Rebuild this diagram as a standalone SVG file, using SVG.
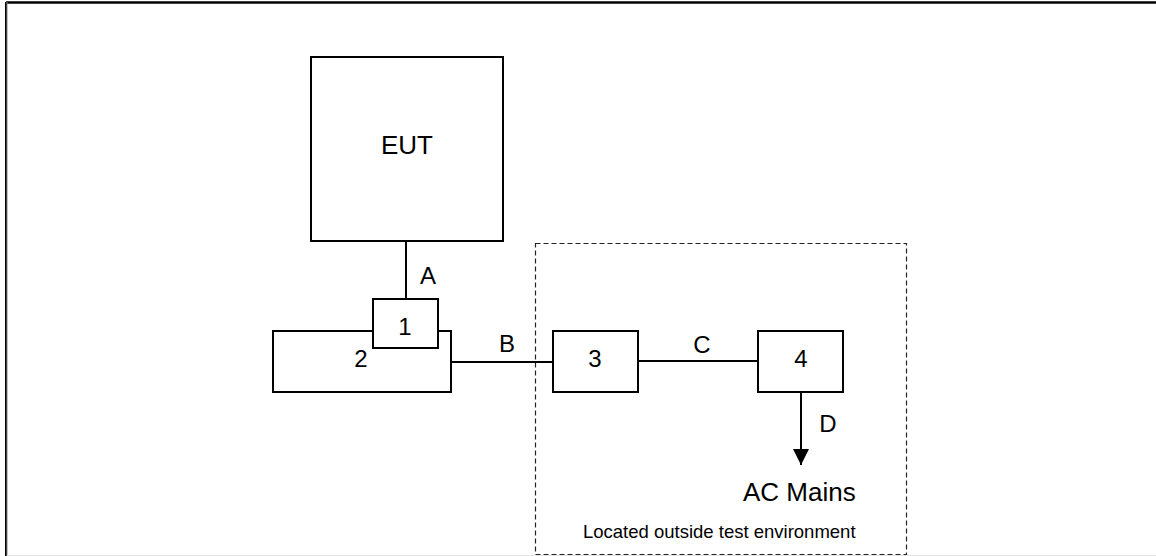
<svg xmlns="http://www.w3.org/2000/svg" width="1156" height="556" viewBox="0 0 1156 556">
<defs>
<style>
.box{fill:#fff;stroke:#000;stroke-width:2}
.wire{stroke:#000;stroke-width:2;fill:none}
.lbl{font-family:"Liberation Sans",Arial,sans-serif;font-size:24px;fill:#000}
.big{font-family:"Liberation Sans",Arial,sans-serif;font-size:26px;fill:#000}
.mid{text-anchor:middle}
</style>
<marker id="arr" viewBox="0 0 16 16" refX="16" refY="8" markerWidth="16" markerHeight="16" markerUnits="userSpaceOnUse" orient="auto">
<path d="M0,0 L16,8 L0,16 Z" fill="#000"/>
</marker>
</defs>
<rect width="1156" height="556" fill="#fff"/>
<g id="frame">
<line x1="6" y1="2.5" x2="1156" y2="2.5" stroke="#000" stroke-width="2.5"/>
<line x1="6" y1="2" x2="6" y2="556" stroke="#000" stroke-width="2"/>
<line x1="7" y1="2" x2="7" y2="556" stroke="#888" stroke-width="1"/>
<line x1="7" y1="555.5" x2="1156" y2="555.5" stroke="#e6e6e6" stroke-width="1"/>
</g>
<g id="zone">
<rect x="535.5" y="243.5" width="371" height="311" fill="none" stroke="#222" stroke-width="1.2" stroke-dasharray="5,3"/>
<text class="lbl" x="583" y="538" style="font-size:18.5px">Located outside test environment</text>
</g>
<g id="connectors">
<line class="wire" x1="406" y1="241" x2="406" y2="299"/>
<line class="wire" x1="451" y1="362" x2="553" y2="362"/>
<line class="wire" x1="638" y1="361" x2="758" y2="361"/>
<line class="wire" x1="801" y1="392" x2="801" y2="465" marker-end="url(#arr)"/>
<text class="lbl mid" x="428" y="284">A</text>
<text class="lbl mid" x="507" y="352">B</text>
<text class="lbl mid" x="702" y="353">C</text>
<text class="lbl mid" x="828" y="432">D</text>
</g>
<g id="eut">
<rect class="box" x="311" y="57" width="192" height="184"/>
<text class="big mid" x="407" y="154">EUT</text>
</g>
<g id="node2">
<rect class="box" x="273" y="331" width="178" height="61"/>
<text class="lbl mid" x="361" y="367">2</text>
</g>
<g id="node1">
<rect class="box" x="373" y="299" width="65" height="49"/>
<text class="lbl mid" x="405" y="335">1</text>
</g>
<g id="node3">
<rect class="box" x="553" y="331" width="85" height="61"/>
<text class="lbl mid" x="595" y="367">3</text>
</g>
<g id="node4">
<rect class="box" x="758" y="331" width="85" height="61"/>
<text class="lbl mid" x="801" y="367">4</text>
</g>
<g id="mains">
<text class="big" x="743" y="501">AC Mains</text>
</g>
</svg>
